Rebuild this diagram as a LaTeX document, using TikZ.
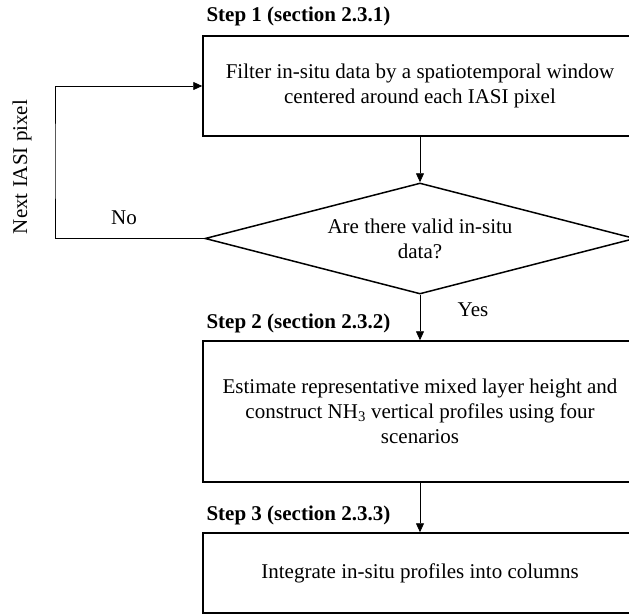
\documentclass[tikz,border=0pt]{standalone}
\usepackage{fontspec}
\setmainfont{Liberation Serif}
\usetikzlibrary{shapes.geometric,arrows.meta}
\begin{document}
\begin{tikzpicture}[x=1pt,y=-1pt,
   every node/.style={font=\fontsize{21}{25}\selectfont},
   stepbox/.style={draw,line width=1.5pt,minimum width=434pt,align=center,inner sep=0pt},
   decide/.style={draw,diamond,shape aspect=3.87,line width=1.5pt,minimum width=430pt,minimum height=111pt,align=center,inner sep=0pt},
   steplabel/.style={anchor=west,font=\fontsize{21}{25}\selectfont\bfseries},
   flow/.style={line width=0.8pt,-{Triangle[length=9pt,width=8pt]}},
   line/.style={line width=0.8pt}]
   \clip (0,0) rectangle (629,613);
   % boxes
   \node[stepbox,minimum height=100pt] (filter) at (420,86) {Filter in-situ data by a spatiotemporal window\\centered around each IASI pixel};
   \node[decide] (valid) at (420,238.5) {Are there valid in-situ\\data?};
   \node[stepbox,minimum height=141pt] (profile) at (420,411.5) {Estimate representative mixed layer height and\\construct NH\textsubscript{3} vertical profiles using four\\scenarios};
   \node[stepbox,minimum height=80pt] (column) at (420,573) {Integrate in-situ profiles into columns};
   % labels
   \node[steplabel] (s1) at (203,16) {Step 1 (section 2.3.1)};
   \node[steplabel] (s2) at (203,323) {Step 2 (section 2.3.2)};
   \node[steplabel] (s3) at (203,515) {Step 3 (section 2.3.3)};
   \node (no) at (124,218) {No};
   \node (yes) at (473,310) {Yes};
   \node[rotate=90] (next) at (22,167) {Next IASI pixel};
   % arrows
   \coordinate (loop) at (55,160);
   \draw[flow] (filter) -- (valid);
   \draw[flow] (valid) -- (profile);
   \draw[flow] (profile) -- (column);
   \draw[flow] (valid.west) -| (loop) |- (filter.west);
\end{tikzpicture}
\end{document}
